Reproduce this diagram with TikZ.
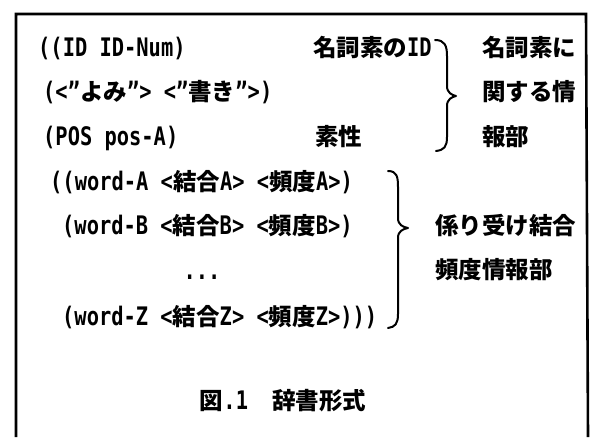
\documentclass[tikz,border=0pt]{standalone}
\usepackage{fontspec}
\setmainfont{DejaVu Sans Mono}[FakeStretch=0.8]
\newfontfamily\cjkfont{Noto Sans CJK JP}
\newcommand\jp[1]{{\cjkfont\fontsize{23.5}{23.5}\selectfont #1}}
\tikzset{
  txt/.style={inner sep=0pt, anchor=west, text height=17pt, text depth=5pt,
    font=\fontsize{25.5}{25.5}\selectfont\bfseries},
  bracestroke/.style={line width=2pt, line cap=round, line join=round},
  frame/.style={line width=2.6pt}
}
\begin{document}
\begin{tikzpicture}[x=1pt,y=-1pt]
\useasboundingbox (0,0) rectangle (594,437);
% frame (open at the bottom)
\draw[frame] (16,437) -- (16,14) -- (586,14) -- (588,437);

% ID part
\node[txt] (l1) at (38,50) {((ID ID-Num)};
\node[txt] (l2) at (43,94) {(<"\jp{よみ}"> <"\jp{書き}">)};
\node[txt] (l3) at (43,139) {(POS pos-A)};
\node[txt] (c1) at (313,50) {\jp{名詞素の}ID};
\node[txt] (c3) at (315,139) {\jp{素性}};
\node[txt] (r1) at (482,50) {\jp{名詞素に}};
\node[txt] (r2) at (482,94) {\jp{関する情}};
\node[txt] (r3) at (482,139) {\jp{報部}};

% dependency part
\node[txt] (l4) at (50,184) {((word-A <\jp{結合}A> <\jp{頻度}A>)};
\node[txt] (l5) at (62,228) {(word-B <\jp{結合}B> <\jp{頻度}B>)};
\node[txt, anchor=center] (dots) at (202,273) {...};
\node[txt] (l7) at (62,319) {(word-Z <\jp{結合}Z> <\jp{頻度}Z>)))};
\node[txt] (s1) at (435,228) {\jp{係り受け結合}};
\node[txt] (s2) at (435,272) {\jp{頻度情報部}};

% caption
\node[txt, anchor=center] (cap) at (283,403) {\jp{図}.1\hspace{24pt}\jp{辞書形式}};

% brace 1
\draw[bracestroke] (435,40) .. controls (445,40) and (447,46) .. (447,56)
  -- (447,86) .. controls (447,93) and (452,95) .. (456,96)
  .. controls (452,97) and (447,99) .. (447,106)
  -- (447,137) .. controls (447,147) and (444,150) .. (436,151);
% brace 2
\draw[bracestroke] (388,171) .. controls (397,171) and (398,177) .. (398,187)
  -- (398,218) .. controls (398,225) and (403,227) .. (408,228)
  .. controls (403,229) and (398,231) .. (398,238)
  -- (398,314) .. controls (398,324) and (395,327) .. (388,328);
\end{tikzpicture}
\end{document}
